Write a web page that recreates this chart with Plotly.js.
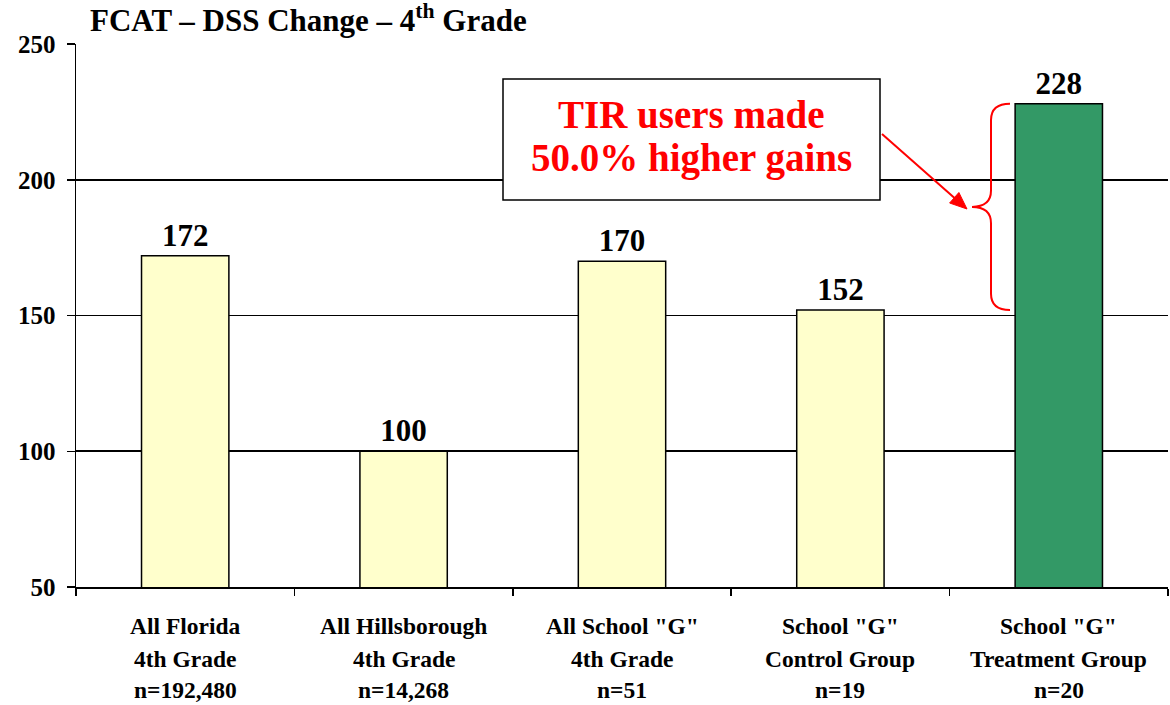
<!DOCTYPE html>
<html><head><meta charset="utf-8">
<script src="https://cdn.plot.ly/plotly-3.0.1.min.js"></script>
<style>body{margin:0;background:#fff}</style>
</head><body><div id="chart" style="width:1170px;height:705px"></div>
<script>
const categories = ['All Florida 4th Grade', 'All Hillsborough 4th Grade', 'All School "G" 4th Grade', 'School "G" Control Group', 'School "G" Treatment Group'];
const labelLine1 = ['All Florida', 'All Hillsborough', 'All School "G"', 'School "G"', 'School "G"'];
const labelLine2 = ['4th Grade', '4th Grade', '4th Grade', 'Control Group', 'Treatment Group'];
const labelLine3 = ['n=192,480', 'n=14,268', 'n=51', 'n=19', 'n=20'];
const dssChange = [172, 100, 170, 152, 228];
const barColors = ['#FFFFCC', '#FFFFCC', '#FFFFCC', '#FFFFCC', '#339966'];
const yTicks = [50, 100, 150, 200, 250];
const titleText = 'FCAT – DSS Change – 4<sup>th</sup> Grade';
const calloutLines = ['TIR users made', '50.0% higher gains'];

const serif = '"Liberation Serif", "Times New Roman", serif';

// plot-area geometry (for decoration placement in paper units)
const M = {l: 76, r: 2, t: 44, b: 118}, W = 1170, H = 705;
const pw = W - M.l - M.r, ph = H - M.t - M.b;
const px2x = p => (p - M.l) / pw;
const px2y = p => (H - M.b - p) / ph;

const trace = {
  type: 'bar',
  x: categories,
  y: dssChange,
  marker: {color: barColors, line: {color: '#000', width: 1.5}},
  text: dssChange.map(String),
  textposition: 'outside',
  textfont: {family: serif, size: 31, color: '#000', weight: 'bold'},
  cliponaxis: false,
  hoverinfo: 'x+y'
};

const annotations = [];
const lineY = [-0.072, -0.1326, -0.1897];
[labelLine1, labelLine2, labelLine3].forEach((lines, li) => {
  lines.forEach((t, i) => {
    annotations.push({
      x: categories[i], xref: 'x', y: lineY[li], yref: 'paper',
      text: t, showarrow: false, xanchor: 'center', yanchor: 'middle',
      font: {family: serif, size: 23.5, color: '#000', weight: 'bold'}
    });
  });
});

// callout text (one annotation per line)
const calloutY = [px2y(114), px2y(158)];
calloutLines.forEach((t, i) => {
  annotations.push({
    x: (px2x(503) + px2x(880)) / 2, xref: 'paper', y: calloutY[i], yref: 'paper',
    text: t, showarrow: false, xanchor: 'center', yanchor: 'middle',
    font: {family: serif, size: 39, color: '#FF0000', weight: 'bold'}
  });
});

// brace geometry
const braceTop = dssChange[4], braceBot = dssChange[3], braceMid = (braceTop + braceBot) / 2, braceR = 6;
const xt = px2x(1010), xs = px2x(991), xp = px2x(972);
const bracePath = `M ${xt},${braceTop} Q ${xs},${braceTop} ${xs},${braceTop - braceR} L ${xs},${braceMid + braceR} Q ${xs},${braceMid} ${xp},${braceMid} Q ${xs},${braceMid} ${xs},${braceMid - braceR} L ${xs},${braceBot + braceR} Q ${xs},${braceBot} ${xt},${braceBot}`;

// arrow (shape line + triangular head)
const tail = [882, 134], tip = [967, 209];
const dx = tip[0] - tail[0], dy = tip[1] - tail[1], len = Math.hypot(dx, dy);
const ux = dx / len, uy = dy / len, hl = 17, hw = 7;
const bx = tip[0] - ux * hl, by = tip[1] - uy * hl;
const p1 = [bx - uy * hw, by + ux * hw], p2 = [bx + uy * hw, by - ux * hw];
const headPath = `M ${px2x(tip[0])},${px2y(tip[1])} L ${px2x(p1[0])},${px2y(p1[1])} L ${px2x(p2[0])},${px2y(p2[1])} Z`;

const layout = {
  width: W, height: H,
  margin: M,
  paper_bgcolor: '#fff', plot_bgcolor: '#fff',
  showlegend: false,
  bargap: 0.6,
  title: {
    text: titleText, x: 90 / 1170, xanchor: 'left', xref: 'container',
    y: 1 - 20 / 705, yanchor: 'middle', yref: 'container',
    font: {family: serif, size: 31, color: '#000', weight: 'bold'}
  },
  xaxis: {
    type: 'category', range: [-0.5, 4.5],
    showline: true, linecolor: '#000', linewidth: 1.5,
    ticks: 'outside', tickson: 'boundaries', ticklen: 7, tickcolor: '#000', tickwidth: 1.5,
    showticklabels: false, showgrid: false, zeroline: false, fixedrange: true
  },
  yaxis: {
    range: [50, 250], tickvals: yTicks,
    showline: true, linecolor: '#000', linewidth: 1.5,
    ticks: 'outside', ticklen: 8, tickcolor: '#000', tickwidth: 1.5,
    tickfont: {family: serif, size: 25, color: '#000', weight: 'bold'},
    ticklabelstandoff: 6,
    showgrid: true, gridcolor: '#000', gridwidth: 1.7, zeroline: false, fixedrange: true
  },
  shapes: [
    {type: 'rect', xref: 'paper', yref: 'paper', x0: px2x(503), x1: px2x(880), y0: px2y(200), y1: px2y(79),
     line: {color: '#000', width: 1.5}, fillcolor: '#fff', layer: 'above'},
    {type: 'path', xref: 'paper', yref: 'y', path: bracePath,
     line: {color: '#FF0000', width: 2}, layer: 'above'},
    {type: 'line', xref: 'paper', yref: 'paper',
     x0: px2x(tail[0]), y0: px2y(tail[1]), x1: px2x(bx), y1: px2y(by),
     line: {color: '#FF0000', width: 2}, layer: 'above'},
    {type: 'path', xref: 'paper', yref: 'paper', path: headPath,
     line: {color: '#FF0000', width: 1}, fillcolor: '#FF0000', layer: 'above'}
  ],
  annotations: annotations
};

Plotly.newPlot('chart', [trace], layout, {displayModeBar: false, staticPlot: true});
</script>
</body></html>
